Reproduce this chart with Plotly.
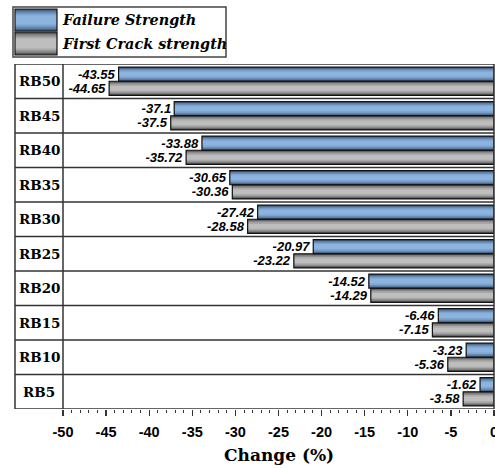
import plotly.graph_objects as go

categories = ["RB5", "RB10", "RB15", "RB20", "RB25", "RB30", "RB35", "RB40", "RB45", "RB50"]
failure_strength = [-1.62, -3.23, -6.46, -14.52, -20.97, -27.42, -30.65, -33.88, -37.1, -43.55]
first_crack = [-3.58, -5.36, -7.15, -14.29, -23.22, -28.58, -30.36, -35.72, -37.5, -44.65]
series_names = ["Failure Strength", "First Crack strength"]
x_ticks = [-50, -45, -40, -35, -30, -25, -20, -15, -10, -5, 0]

W_PX, H_PX = 495, 468
L, R, T, B = 63, 1, 64, 59
PW = W_PX - L - R
PH = H_PX - B - T


def pxx(px):
    return (px - L) / PW


def pxy(py):
    return (H_PX - B - py) / PH


blue_layers = ["#46607e", "#6488b0", "#7ea5d0", "#8cb4df"]
grey_layers = ["#5a5a5a", "#8a8a8a", "#a9a9a9", "#bebebe"]

BW = 0.41
STEP = 0.045

fig = go.Figure()

for vals, offs, layers in [(failure_strength, 0.0, blue_layers), (first_crack, -BW, grey_layers)]:
    for k, col in enumerate(layers):
        fig.add_trace(go.Bar(
            x=vals, y=categories, orientation="h",
            offset=offs + k * STEP, width=BW - 2 * k * STEP,
            marker=dict(color=col, line=dict(width=0)),
            showlegend=False, hoverinfo="skip",
        ))

for vals, offs, name in [(failure_strength, 0.0, series_names[0]), (first_crack, -BW, series_names[1])]:
    fig.add_trace(go.Bar(
        x=vals, y=categories, orientation="h", name=name,
        offset=offs, width=BW,
        marker=dict(color="rgba(0,0,0,0)", line=dict(color="#111", width=1.2)),
        text=[str(v) for v in vals], textposition="outside", constraintext="none",
        textfont=dict(family="Liberation Sans", size=13, weight="bold", style="italic", color="black"),
        showlegend=False,
    ))

shapes = []
line_col = "#333"
for i in range(len(categories) + 1):
    shapes.append(dict(type="line", xref="paper", yref="y", x0=pxx(15), x1=1,
                       y0=i - 0.5, y1=i - 0.5, line=dict(color=line_col, width=1.3)))
for xp in [pxx(15), 0, 1]:
    shapes.append(dict(type="line", xref="paper", yref="y", x0=xp, x1=xp,
                       y0=-0.5, y1=len(categories) - 0.5, line=dict(color=line_col, width=1.5)))

lg_x0, lg_x1, lg_y0, lg_y1 = 13, 226, 7, 57
shapes.append(dict(type="rect", xref="paper", yref="paper", x0=pxx(lg_x0), x1=pxx(lg_x1),
                   y0=pxy(lg_y1), y1=pxy(lg_y0), line=dict(color="#444", width=1.5), fillcolor="white"))
sw = [(9, 31, blue_layers), (32, 55, grey_layers)]
annotations = []
for (top, bot, layers), name in zip(sw, series_names):
    for k, col in enumerate(layers):
        inset = k * 2.2
        shapes.append(dict(type="rect", xref="paper", yref="paper", x0=pxx(15), x1=pxx(57),
                           y0=pxy(bot - inset), y1=pxy(top + inset), line=dict(width=0), fillcolor=col))
    shapes.append(dict(type="rect", xref="paper", yref="paper", x0=pxx(15), x1=pxx(57),
                       y0=pxy(bot), y1=pxy(top), line=dict(color="#111", width=1.2)))
    annotations.append(dict(xref="paper", yref="paper", x=pxx(60), y=pxy((top + bot) / 2),
                            xanchor="left", yanchor="middle", showarrow=False, text=name,
                            font=dict(family="DejaVu Serif", size=14.4, weight="bold", style="italic", color="black")))

for c in categories:
    annotations.append(dict(xref="paper", yref="y", x=pxx(39), y=c, xanchor="center", yanchor="middle",
                            showarrow=False, text=c,
                            font=dict(family="DejaVu Serif", size=13.5, weight="bold", color="black")))

annotations.append(dict(xref="paper", yref="paper", x=0.5, y=pxy(455), xanchor="center", yanchor="middle",
                        showarrow=False, text="Change (%)",
                        font=dict(family="DejaVu Serif", size=17, weight="bold", color="black")))

fig.update_layout(
    width=W_PX, height=H_PX, template="none",
    margin=dict(l=L, r=R, t=T, b=B),
    paper_bgcolor="white", plot_bgcolor="white",
    barmode="overlay", showlegend=False,
    shapes=shapes, annotations=annotations,
    xaxis=dict(range=[-50, 0], tickvals=x_ticks, ticktext=[str(v) for v in x_ticks],
               ticks="outside", ticklen=6, tickcolor="#333", tickwidth=1.3,
               minor=dict(dtick=1, ticks="outside", ticklen=3, tickcolor="#333", tickwidth=1),
               ticklabelstandoff=4, ticklabeloverflow="allow",
               showgrid=False, zeroline=False, showline=False, automargin=False,
               tickfont=dict(family="Liberation Sans", size=14.5, weight="bold", color="black")),
    yaxis=dict(categoryorder="array", categoryarray=categories, range=[-0.5, len(categories) - 0.5],
               showticklabels=False, ticks="", showgrid=False, zeroline=False, showline=False,
               automargin=False),
)

fig.write_html("out.html", config={"displayModeBar": False, "staticPlot": True},
               post_script="document.body.style.margin='0';document.body.style.overflow='hidden';")
